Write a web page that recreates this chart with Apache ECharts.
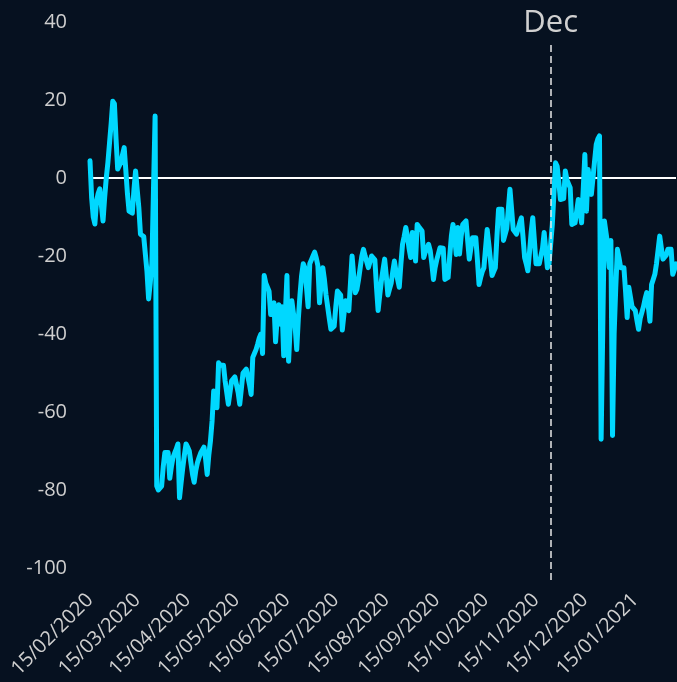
<!DOCTYPE html>
<html>
<head>
<meta charset="utf-8">
<script src="https://cdn.jsdelivr.net/npm/echarts@6/dist/echarts.min.js"></script>
<style>
  html, body { margin: 0; padding: 0; background: #061120; }
  #chart { width: 677px; height: 682px; }
</style>
</head>
<body>
<div id="chart"></div>
<script>
// daily values, first day 15/02/2020
var startDate = Date.UTC(2020, 1, 15);
var values = [
  4.4, -5, -10, -11.8, -6, -4, -2.8, -7, -11, -5,           // d0
  0, 4, 9, 14, 19.7, 19, 10, 2.3, 1.8, 4,                    // d10
  6, 7.8, 2, -4, -8.5, -8.8, -9, -3, 1.8, -3,                // d20
  -7.6, -14.4, -14, -15, -15.3, -24, -31, -27, -22, -3,      // d30
  15.9, -79, -80, -79.5, -79, -74, -70.4, -70.2, -70.4, -77, // d40
  -74, -71.7, -70.5, -69.5, -68.2, -82, -78, -74.3, -71, -68.2, // d50
  -69, -70, -73, -76, -78, -75, -73, -71.7, -70.5, -70,      // d60
  -69, -72, -76, -71, -67.4, -62.3, -54.6, -56, -58.9, -47.4, // d70
  -48, -48.5, -48, -52, -55, -58, -55, -52, -51.5, -51,      // d80
  -51, -55, -58, -54, -50, -49.5, -49, -51, -53, -55.5,      // d90
  -46, -45, -44, -42.6, -41, -40, -45, -25, -27, -28,        // d100
  -29, -35, -33, -32, -42, -36, -32.5, -37.5, -33, -45.6,    // d110
  -35, -25, -47, -38, -31.5, -32, -38, -44, -36, -30,        // d120
  -25, -22, -23, -28, -33, -22, -21, -20, -19, -20.5,        // d130
  -22.5, -32, -27, -23, -26, -30, -33, -36, -38.8, -38.5,    // d140
  -38, -33, -29, -29.5, -30, -39, -35, -31.5, -33, -34,      // d150
  -27, -20, -25, -29.4, -28.5, -26, -23, -20, -18.3, -20,    // d160
  -21.5, -23, -21.5, -20, -20.5, -21, -28, -34, -30, -26.4,  // d170
  -23.5, -20.8, -25, -30, -28.5, -27, -24, -21.3, -24, -26,  // d180
  -28, -22, -17, -15, -12.7, -15, -18, -20.4, -14, -17,      // d190
  -21.3, -11.9, -12.5, -13, -13.6, -20.4, -19, -18, -17, -18.6, // d200
  -22, -26, -23, -21, -19.5, -17.9, -18, -18, -26, -25.8,    // d210
  -25.5, -20, -14.9, -11.9, -15, -19.6, -12.7, -19.5, -15, -11.9, // d220
  -11.5, -11, -16, -20.8, -18, -15.3, -15.3, -15.3, -21, -27.3, // d230
  -25.5, -24, -23, -18, -13.2, -17, -21, -25, -24, -23,      // d240
  -15, -8, -8, -8, -16, -14.5, -13, -8, -2.9, -8,            // d250
  -13.2, -13.8, -14.4, -13, -11.5, -10.2, -15, -20.4, -22, -23.8, // d260
  -19, -14, -10.2, -16, -22, -22, -22, -22, -18, -14,        // d270
  -18.5, -23, -22, -21.5, -12, -4, 3.9, 3, -1, -5.5,         // d280
  -5.4, -5.3, 1.8, -0.5, -1.5, -2.5, -11.9, -11.7, -11.5, -8.5, // d290
  -5.5, -5.3, -11.5, -3, 6, -8.5, 2.2, -1, -4.2, 0,          // d300
  4.4, 8.6, 10, 10.8, -67, -39, -11, -11, -17, -23,          // d310
  -16, -66, -40, -28, -18.3, -20.5, -23, -23, -23, -29,      // d320
  -35.8, -28, -30.5, -33, -33.5, -34, -36.5, -38.8, -36, -34.5, // d330
  -33, -31, -29.4, -33, -36.7, -27.3, -26, -24.7, -22, -18.5, // d340
  -14.9, -18, -20.8, -20.3, -19.8, -18.3, -18.3, -18.3, -24.7, -23.5, // d350
  -22                                                        // d360
];
var yTicks = [-100, -80, -60, -40, -20, 0, 20, 40];
var markerDate = '24/11/2020';
var markerText = 'Dec';

function pad(n) { return (n < 10 ? '0' : '') + n; }
var dates = values.map(function (v, i) {
  var d = new Date(startDate + i * 86400000);
  return pad(d.getUTCDate()) + '/' + pad(d.getUTCMonth() + 1) + '/' + d.getUTCFullYear();
});

var chart = echarts.init(document.getElementById('chart'));
var option = {
  backgroundColor: '#061120',
  animation: false,
  textStyle: { fontFamily: 'Open Sans' },
  grid: [
    { left: 90, right: 1, top: 22, bottom: 114, containLabel: false },
    // taller box only used for the dashed marker line
    { left: 90, right: 1, top: 43, bottom: 102, containLabel: false }
  ],
  xAxis: [{
    type: 'category',
    data: dates,
    boundaryGap: false,
    axisLine: { show: false },
    axisTick: { show: false },
    splitLine: { show: false },
    axisLabel: {
      rotate: 45,
      margin: 29,
      fontSize: 20,
      color: '#cfcfcf',
      interval: function (i, val) { return val.slice(0, 3) === '15/'; }
    }
  }, {
    type: 'category',
    gridIndex: 1,
    data: dates,
    boundaryGap: false,
    show: false
  }],
  yAxis: [{
    type: 'value',
    min: yTicks[0],
    max: yTicks[yTicks.length - 1],
    interval: 20,
    axisLine: { show: false },
    axisTick: { show: false },
    splitLine: { show: false },
    axisLabel: { margin: 23, fontSize: 20, color: '#cfcfcf' }
  }, {
    type: 'value',
    gridIndex: 1,
    min: 0,
    max: 1,
    show: false
  }],
  series: [{
    type: 'line',
    data: values,
    showSymbol: false,
    z: 3,
    lineStyle: { color: '#00d8ff', width: 5, cap: 'round', join: 'round' },
    markLine: {
      silent: true,
      symbol: ['none', 'none'],
      z: 2,
      data: [{
        yAxis: 0,
        lineStyle: { color: '#ffffff', width: 2, type: 'solid' },
        label: { show: false }
      }]
    }
  }, {
    type: 'line',
    xAxisIndex: 1,
    yAxisIndex: 1,
    data: [],
    z: 5,
    markLine: {
      silent: true,
      symbol: ['none', 'none'],
      z: 5,
      data: [{
        xAxis: markerDate,
        lineStyle: { color: '#e8e8e8', width: 1.5, type: [7, 4] },
        label: {
          show: true,
          position: 'end',
          formatter: markerText,
          fontSize: 31,
          color: '#d0d0d0',
          distance: 4
        }
      }]
    }
  }]
};
chart.setOption(option);
</script>
</body>
</html>
